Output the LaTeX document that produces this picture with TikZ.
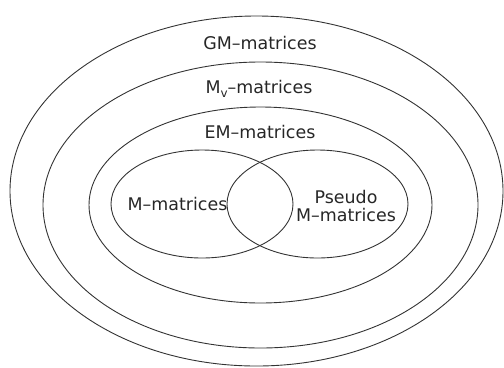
\documentclass[tikz,border=0pt]{standalone}
\usepackage{fontspec}
\setmainfont{DejaVu Sans}
\begin{document}
\begin{tikzpicture}[x=1bp,y=-1bp,
  ring/.style={draw=black!80,line width=0.9bp},
  lbl/.style={font=\fontsize{17.5}{20}\selectfont,text=black!85,inner sep=0pt,align=center}]
\useasboundingbox (0,0) rectangle (504,367);
\draw[ring] (256.5,191) ellipse [x radius=246.5, y radius=175];
\draw[ring] (260.5,205) ellipse [x radius=217.5, y radius=143];
\draw[ring] (260.5,205) ellipse [x radius=171.5, y radius=98];
\draw[ring] (202,204) ellipse [x radius=91, y radius=54];
\draw[ring] (317.5,204) ellipse [x radius=90.5, y radius=54];
\node[lbl] (gm) at (260,43) {GM–matrices};
\node[lbl] (mv) at (259,89) {M\raisebox{-0.35ex}{\fontsize{12}{12}\selectfont v}–matrices};
\node[lbl] (em) at (260,132) {EM–matrices};
\node[lbl] (m) at (177.5,204) {M–matrices};
\node[lbl] (pm) at (346,206) {Pseudo\\[-2pt]M–matrices};
\end{tikzpicture}
\end{document}
